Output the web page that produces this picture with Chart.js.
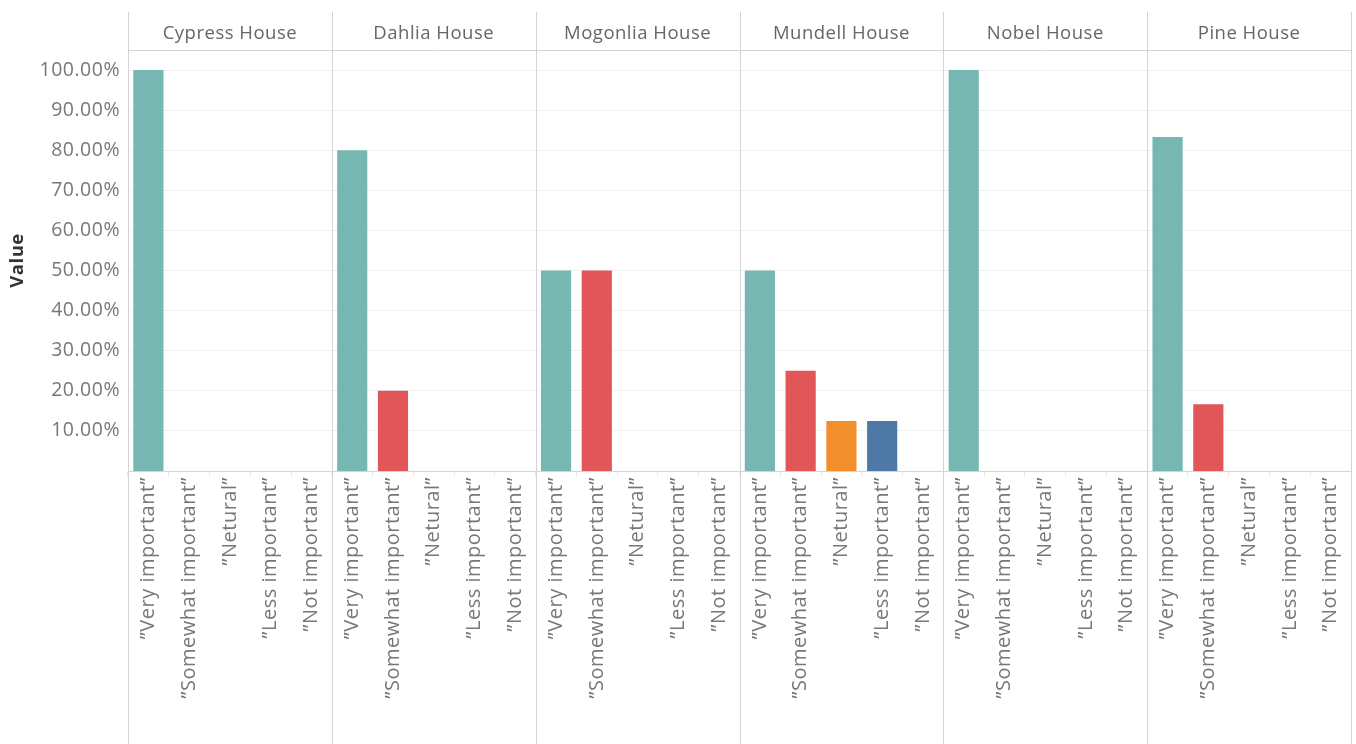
<!DOCTYPE html>
<html>
<head>
<meta charset="utf-8">
<script src="https://cdn.jsdelivr.net/npm/chart.js@4.4.1/dist/chart.umd.min.js"></script>
<style>
  html, body { margin: 0; padding: 0; background: #fff; }
  #wrap { width: 1356px; height: 744px; position: relative; }
</style>
</head>
<body>
<div id="wrap"><canvas id="c"></canvas></div>
<script>
// ---- data ----
const houses = ["Cypress House", "Dahlia House", "Mogonlia House", "Mundell House", "Nobel House", "Pine House"];
const categories = ["\u201DVery important\u201D", "\u201DSomewhat important\u201D", "\u201DNetural\u201D", "\u201DLess important\u201D", "\u201DNot important\u201D"];
const categoryColors = ["#76b7b2", "#e15759", "#f28e2b", "#4e79a7", "#b07aa1"];
const cypress  = [100, 0, 0, 0, 0];
const dahlia   = [80, 20, 0, 0, 0];
const mogonlia = [50, 50, 0, 0, 0];
const mundell  = [50, 25, 12.5, 12.5, 0];
const nobel    = [100, 0, 0, 0, 0];
const pine     = [83.33, 16.67, 0, 0, 0];
const yTickValues = [10, 20, 30, 40, 50, 60, 70, 80, 90, 100];

// ---- build ----
const seriesByHouse = [cypress, dahlia, mogonlia, mundell, nobel, pine];
const labels = [];
const values = [];
const colors = [];
seriesByHouse.forEach(arr => {
  arr.forEach((v, i) => {
    labels.push(categories[i]);
    values.push(v);
    colors.push(categoryColors[i]);
  });
});

const FONT = "'Open Sans', 'DejaVu Sans', sans-serif";
const LINE = "#d4d4d4";

const spacing = {
  id: 'spacing',
  beforeUpdate(chart) { chart.ctx.letterSpacing = '0.5px'; },
  beforeLayout(chart) { chart.ctx.letterSpacing = '0.5px'; },
  beforeDraw(chart) { chart.ctx.letterSpacing = '0.5px'; }
};

const panelFrame = {
  id: 'panelFrame',
  beforeDatasetsDraw(chart) {
    const ctx = chart.ctx;
    const a = chart.chartArea;
    const n = houses.length;
    const w = (a.right - a.left) / n;
    ctx.save();
    ctx.strokeStyle = LINE;
    ctx.lineWidth = 1;
    ctx.beginPath();
    for (let i = 0; i <= n; i++) {
      const x = Math.round(a.left + i * w) + 0.5;
      ctx.moveTo(x, 12);
      ctx.lineTo(x, chart.height);
    }
    const yTop = Math.round(a.top) + 0.5;
    ctx.moveTo(a.left, yTop);
    ctx.lineTo(a.right, yTop);
    ctx.stroke();
    ctx.restore();
  }
};

new Chart(document.getElementById('c'), {
  type: 'bar',
  data: {
    labels: labels,
    datasets: [{
      data: values,
      backgroundColor: colors,
      borderWidth: 0,
      barPercentage: 0.74,
      categoryPercentage: 1.0
    }]
  },
  options: {
    responsive: true,
    maintainAspectRatio: false,
    animation: false,
    layout: { padding: { top: 12, right: 5, bottom: 0, left: 0 } },
    plugins: { legend: { display: false }, tooltip: { enabled: false } },
    scales: {
      x: {
        type: 'category',
        position: 'bottom',
        grid: { offset: true, drawOnChartArea: false, drawTicks: true, tickLength: 5, color: '#e6e6e6' },
        border: { display: true, color: LINE },
        ticks: {
          autoSkip: false, maxRotation: 90, minRotation: 90,
          padding: 1,
          color: '#777', font: { family: FONT, size: 20 }
        },
        afterFit(scale) { scale.height = 273; }
      },
      xTop: {
        type: 'category',
        position: 'top',
        labels: houses,
        offset: true,
        grid: { display: false, drawTicks: false },
        border: { display: false },
        ticks: { padding: 5, color: '#666', font: { family: FONT, size: 18.5 } },
        afterFit(scale) { scale.height = 38; }
      },
      y: {
        min: 0, max: 105,
        afterBuildTicks(scale) { scale.ticks = yTickValues.map(v => ({ value: v })); },
        grid: { color: '#f0f0f0', drawTicks: false },
        border: { display: false },
        ticks: {
          padding: 8,
          color: '#777', font: { family: FONT, size: 19.5 },
          callback: v => v.toFixed(2) + '%'
        },
        title: { display: true, text: 'Value', color: '#333', font: { family: FONT, size: 18.5, weight: 'bold' }, padding: { top: 7, bottom: 0 } },
        afterFit(scale) { scale.width = 128; }
      }
    }
  },
  plugins: [spacing, panelFrame]
});
</script>
</body>
</html>
